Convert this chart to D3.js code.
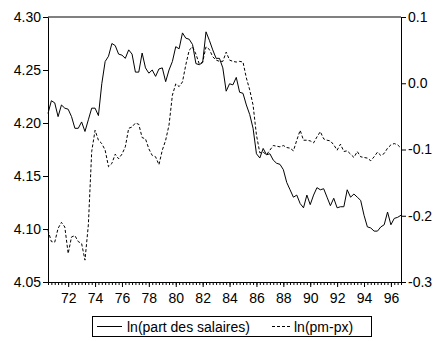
<!DOCTYPE html>
<html>
<head>
<meta charset="utf-8">
<script src="https://cdn.jsdelivr.net/npm/d3@7"></script>
<style>
    body { margin: 0; background: #fff; }
    svg text { font-family: "Liberation Sans", Arial, sans-serif; font-size: 14px; fill: #000; }
</style>
</head>
<body>
<div id="chart"></div>
<script>

// quarterly, 1970Q3 - 1996Q4
const firstYear = 1970, firstQuarter = 3;

const wageShare = [
    4.209, 4.221, 4.219, 4.206, 4.217, 4.214, 4.213, 4.206, 4.195, 4.195,
    4.201, 4.192, 4.203, 4.214, 4.214, 4.207, 4.237, 4.258, 4.263, 4.275,
    4.273, 4.265, 4.264, 4.261, 4.269, 4.265, 4.248, 4.248, 4.266, 4.252,
    4.247, 4.250, 4.244, 4.251, 4.252, 4.239, 4.250, 4.258, 4.272, 4.270,
    4.285, 4.280, 4.279, 4.274, 4.256, 4.255, 4.257, 4.286, 4.278, 4.269,
    4.261, 4.261, 4.252, 4.230, 4.237, 4.236, 4.243, 4.229, 4.228, 4.217,
    4.208, 4.195, 4.171, 4.167, 4.176, 4.170, 4.171, 4.165, 4.162, 4.161,
    4.156, 4.144, 4.137, 4.130, 4.132, 4.124, 4.120, 4.132, 4.123, 4.132,
    4.139, 4.137, 4.138, 4.130, 4.122, 4.129, 4.120, 4.121, 4.121, 4.137,
    4.130, 4.133, 4.130, 4.127, 4.113, 4.102, 4.101, 4.098, 4.098, 4.102,
    4.104, 4.116, 4.104, 4.110, 4.111, 4.113
];

const priceRatio = [
    -0.222, -0.239, -0.240, -0.219, -0.210, -0.217, -0.257, -0.232, -0.230, -0.239,
    -0.242, -0.267, -0.214, -0.103, -0.071, -0.086, -0.091, -0.101, -0.126, -0.121,
    -0.107, -0.114, -0.107, -0.096, -0.068, -0.066, -0.060, -0.062, -0.082, -0.084,
    -0.099, -0.109, -0.111, -0.123, -0.101, -0.086, -0.063, -0.018, -0.001, -0.005,
    0.002, 0.028, 0.050, 0.055, 0.044, 0.029, 0.032, 0.055, 0.051, 0.040,
    0.035, 0.033, 0.033, 0.047, 0.035, 0.033, 0.032, 0.033, 0.032, 0.008,
    -0.010, -0.033, -0.078, -0.105, -0.104, -0.108, -0.101, -0.094, -0.095, -0.096,
    -0.094, -0.097, -0.098, -0.102, -0.086, -0.071, -0.086, -0.086, -0.087, -0.090,
    -0.081, -0.073, -0.084, -0.086, -0.087, -0.093, -0.101, -0.092, -0.103, -0.102,
    -0.107, -0.112, -0.103, -0.111, -0.112, -0.113, -0.117, -0.111, -0.104, -0.109,
    -0.106, -0.098, -0.093, -0.091, -0.093, -0.098
];

const leftTicks = [4.05, 4.10, 4.15, 4.20, 4.25, 4.30];
const rightTicks = [-0.3, -0.2, -0.1, 0.0, 0.1];
const yearLabels = ["72", "74", "76", "78", "80", "82", "84", "86", "88", "90", "92", "94", "96"];
const seriesNames = ["ln(part des salaires)", "ln(pm-px)"];

const width = 440, height = 341;
const margin = { top: 17, right: 39, bottom: 59, left: 48 };

const svg = d3.select("#chart").append("svg")
    .attr("width", width)
    .attr("height", height);

const n = wageShare.length;

const x = d3.scaleLinear()
    .domain([0, n - 1])
    .range([margin.left, width - margin.right]);

const yLeft = d3.scaleLinear()
    .domain([4.05, 4.30])
    .range([height - margin.bottom, margin.top]);

const yRight = d3.scaleLinear()
    .domain([-0.3, 0.1])
    .range([height - margin.bottom, margin.top]);

// index of first quarter of a year ("72" -> 1972Q1)
const yearIndex = yy => (1900 + +yy - firstYear) * 4 + (1 - firstQuarter);

// Frame

svg.append("line")
    .attr("x1", margin.left).attr("x2", width - margin.right)
    .attr("y1", margin.top).attr("y2", margin.top)
    .attr("stroke", "#808080")
    .attr("stroke-width", 2);

// Axes

svg.append("g")
    .attr("transform", `translate(${margin.left},0)`)
    .call(d3.axisLeft(yLeft).tickValues(leftTicks).tickFormat(d3.format(".2f"))
        .tickSize(5).tickSizeOuter(0).tickPadding(2));

svg.append("g")
    .attr("transform", `translate(${width - margin.right},0)`)
    .call(d3.axisRight(yRight).tickValues(rightTicks).tickFormat(d => d.toFixed(1))
        .tickSize(5).tickSizeOuter(0).tickPadding(2));

svg.append("g")
    .attr("transform", `translate(0,${height - margin.bottom})`)
    .call(d3.axisBottom(x).tickValues(d3.range(n)).tickFormat("")
        .tickSize(3).tickSizeOuter(0));

svg.append("g")
    .attr("transform", `translate(0,${height - margin.bottom})`)
    .call(d3.axisBottom(x).tickValues(yearLabels.map(yearIndex))
        .tickFormat((d, i) => yearLabels[i])
        .tickSize(5).tickSizeOuter(0).tickPadding(6))
    .call(g => g.select(".domain").remove());

svg.selectAll(".tick text").attr("font-size", null).attr("font-family", null);
svg.selectAll("g").attr("font-size", null).attr("font-family", null);

// Lines

svg.append("path")
    .datum(wageShare)
    .attr("fill", "none")
    .attr("stroke", "#000")
    .attr("stroke-width", 1)
    .attr("d", d3.line().x((d, i) => x(i)).y(d => yLeft(d)));

svg.append("path")
    .datum(priceRatio)
    .attr("fill", "none")
    .attr("stroke", "#000")
    .attr("stroke-width", 1)
    .attr("stroke-dasharray", "3,2")
    .attr("d", d3.line().x((d, i) => x(i)).y(d => yRight(d)));

// Legend

const legend = svg.append("g");

legend.append("rect")
    .attr("x", 92.5).attr("y", 316.5)
    .attr("width", 279).attr("height", 20)
    .attr("fill", "none")
    .attr("stroke", "#000");

const items = [
    { name: seriesNames[0], x0: 97, x1: 122, tx: 127, dash: null },
    { name: seriesNames[1], x0: 272, x1: 290, tx: 294, dash: "3,2" }
];

items.forEach(d => {
    legend.append("line")
        .attr("x1", d.x0).attr("x2", d.x1)
        .attr("y1", 326.5).attr("y2", 326.5)
        .attr("stroke", "#000")
        .attr("stroke-dasharray", d.dash);
    legend.append("text")
        .attr("x", d.tx).attr("y", 331.5)
        .text(d.name);
});

</script>
</body>
</html>
